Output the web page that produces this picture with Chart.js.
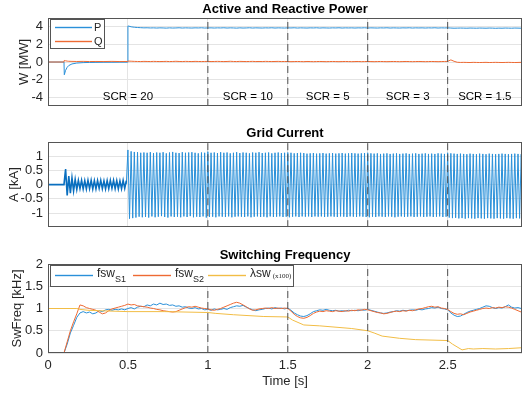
<!DOCTYPE html>
<html>
<head>
<meta charset="utf-8">
<script src="https://cdn.jsdelivr.net/npm/chart.js@4.4.1/dist/chart.umd.min.js"></script>
<style>
  body { margin: 0; background: #fff; }
  canvas { position: absolute; left: 0; }
</style>
</head>
<body>
<canvas id="powerChart" width="523" height="120" style="top:0"></canvas>
<canvas id="currentChart" width="523" height="120" style="top:120px"></canvas>
<canvas id="freqChart" width="523" height="153" style="top:240px"></canvas>
<script>
// ---- data ----
const xTicks = [0, 0.5, 1, 1.5, 2, 2.5];
const scrTimes = [1, 1.5, 2, 2.5];
const scrLabels = ['SCR = 20', 'SCR = 10', 'SCR = 5', 'SCR = 3', 'SCR = 1.5'];
const powerTicks = [-4, -2, 0, 2, 4];
const currentTicks = [-1, -0.5, 0, 0.5, 1];
const freqTicks = [0, 0.5, 1, 1.5, 2];

// active / reactive power [MW]: transient part, then samples every 0.02 s from 0.52 s
const pqTimeStart = [0, 0.1, 0.102, 0.11, 0.12, 0.13, 0.15, 0.18, 0.22, 0.26, 0.3, 0.35, 0.4, 0.45, 0.499, 0.5, 0.505];
const pStart = [0, 0, -1.45, -0.95, -0.6, -0.4, -0.22, -0.12, -0.07, -0.05, -0.04, -0.03, -0.03, -0.02, -0.02, 4.1, 4.08];
const qStart = [0, 0, 0.18, 0.14, 0.1, 0.08, 0.07, 0.06, 0.07, 0.05, 0.06, 0.05, 0.07, 0.05, 0.06, 0.12, 0.1];
const pqFineFrom = 0.52, pqFineStep = 0.02;
const pFine = [
  4.0, 3.95, 3.92, 3.9, 3.88, 3.89, 3.87, 3.88, 3.86, 3.88,
  3.87, 3.85, 3.88, 3.86, 3.87, 3.89, 3.86, 3.88, 3.87, 3.86,
  3.88, 3.87, 3.89, 3.86, 3.87, 3.88, 3.86, 3.88, 3.87, 3.89,
  3.86, 3.88, 3.87, 3.85, 3.88, 3.86, 3.87, 3.89, 3.86, 3.88,
  3.87, 3.86, 3.88, 3.87, 3.89, 3.86, 3.88, 3.87, 3.86, 3.88,
  3.87, 3.89, 3.86, 3.88, 3.87, 3.86, 3.88, 3.87, 3.89, 3.86,
  3.88, 3.87, 3.86, 3.88, 3.87, 3.89, 3.86, 3.88, 3.87, 3.88,
  3.86, 3.88, 3.87, 3.89, 3.86, 3.88, 3.87, 3.86, 3.88, 3.87,
  3.89, 3.86, 3.88, 3.87, 3.86, 3.88, 3.87, 3.89, 3.86, 3.88,
  3.87, 3.88, 3.86, 3.88, 3.87, 3.89, 3.86, 3.88, 3.87, 3.88,
  3.86, 3.84, 3.85, 3.86, 3.85, 3.84, 3.86, 3.85, 3.84, 3.86,
  3.85, 3.84, 3.86, 3.85, 3.83, 3.85, 3.84, 3.86, 3.85, 3.84,
  3.86, 3.85, 3.84
];
const qFine = [
  0.09, 0.07, 0.06, 0.05, 0.07, 0.06, 0.05, 0.07, 0.06, 0.05,
  0.06, 0.07, 0.05, 0.06, 0.08, 0.06, 0.05, 0.07, 0.06, 0.05,
  0.07, 0.06, 0.05, 0.06, 0.07, 0.05, 0.06, 0.07, 0.06, 0.05,
  0.06, 0.08, 0.06, 0.05, 0.07, 0.06, 0.05, 0.06, 0.07, 0.05,
  0.06, 0.05, 0.07, 0.06, 0.05, 0.06, 0.07, 0.05, 0.06, 0.05,
  0.04, 0.05, 0.06, 0.05, 0.04, 0.06, 0.05, 0.04, 0.05, 0.06,
  0.05, 0.04, 0.05, 0.06, 0.05, 0.04, 0.05, 0.06, 0.05, 0.04,
  0.05, 0.06, 0.04, 0.05, 0.06, 0.05, 0.04, 0.05, 0.06, 0.05,
  0.04, 0.05, 0.06, 0.05, 0.04, 0.05, 0.06, 0.05, 0.04, 0.05,
  0.06, 0.05, 0.04, 0.05, 0.06, 0.05, 0.04, 0.05, 0.06, 0.07,
  0.24, 0.08, -0.03, -0.05, -0.04, -0.05, -0.06, -0.04, -0.05, -0.06,
  -0.05, -0.04, -0.06, -0.05, -0.04, -0.05, -0.06, -0.05, -0.04, -0.05,
  -0.06, -0.05, -0.04
];

// grid current [kA]: successive half-cycle peaks, one every 0.01 s
// before the 0.5 s connection (small ripple) ...
const iaEarlyFrom = 0, iaStep = 0.01;
const iaEarly = [
  0, 0, 0, 0, 0, 0, 0, 0, 0, 0,
  0, 0.55, -0.38, 0.3, -0.3, 0.24, -0.22, 0.18, -0.17, 0.15,
  -0.14, 0.15, -0.15, 0.14, -0.15, 0.15, -0.14, 0.15, -0.15, 0.14,
  -0.15, 0.14, -0.13, 0.15, -0.14, 0.13, -0.15, 0.14, -0.14, 0.15,
  -0.13, 0.15, -0.14, 0.14, -0.15, 0.13, -0.14, 0.15, -0.13, 0.14
];
// ... and after it
const iaMainFrom = 0.49;
const iaMain = [
  0.02,
  1.22, -1.2, 1.17, -1.18, 1.15, -1.16, 1.14, -1.13, 1.12, -1.15,
  1.13, -1.14, 1.12, -1.16, 1.14, -1.12, 1.11, -1.15, 1.13, -1.13,
  1.12, -1.11, 1.14, -1.14, 1.1, -1.16, 1.13, -1.12, 1.15, -1.14,
  1.12, -1.13, 1.11, -1.15, 1.14, -1.12, 1.12, -1.14, 1.13, -1.11,
  1.14, -1.15, 1.12, -1.13, 1.1, -1.14, 1.13, -1.12, 1.12, -1.16,
  1.16, -1.14, 1.12, -1.13, 1.13, -1.15, 1.11, -1.12, 1.14, -1.13,
  1.12, -1.14, 1.13, -1.12, 1.1, -1.15, 1.12, -1.13, 1.14, -1.12,
  1.11, -1.13, 1.13, -1.14, 1.12, -1.12, 1.1, -1.15, 1.13, -1.13,
  1.12, -1.12, 1.14, -1.14, 1.11, -1.13, 1.12, -1.15, 1.13, -1.12,
  1.1, -1.14, 1.12, -1.13, 1.13, -1.12, 1.11, -1.14, 1.12, -1.13,
  1.13, -1.15, 1.12, -1.13, 1.1, -1.12, 1.11, -1.14, 1.12, -1.12,
  1.11, -1.13, 1.09, -1.12, 1.1, -1.14, 1.11, -1.12, 1.09, -1.13,
  1.1, -1.12, 1.11, -1.14, 1.09, -1.13, 1.1, -1.12, 1.11, -1.13,
  1.09, -1.14, 1.1, -1.12, 1.11, -1.13, 1.09, -1.14, 1.1, -1.12,
  1.11, -1.13, 1.1, -1.14, 1.09, -1.12, 1.1, -1.13, 1.11, -1.14,
  1.12, -1.15, 1.1, -1.13, 1.09, -1.14, 1.1, -1.12, 1.08, -1.13,
  1.09, -1.14, 1.1, -1.12, 1.08, -1.13, 1.09, -1.15, 1.1, -1.13,
  1.08, -1.12, 1.09, -1.14, 1.1, -1.13, 1.08, -1.12, 1.09, -1.14,
  1.1, -1.13, 1.08, -1.12, 1.09, -1.14, 1.1, -1.13, 1.08, -1.12,
  1.09, -1.14, 1.08, -1.13, 1.1, -1.12, 1.09, -1.14, 1.08, -1.13,
  1.12, -1.16, 1.1, -1.18, 1.09, -1.17, 1.08, -1.19, 1.09, -1.18,
  1.08, -1.2, 1.07, -1.18, 1.09, -1.19, 1.08, -1.2, 1.07, -1.18,
  1.09, -1.19, 1.08, -1.2, 1.07, -1.18, 1.09, -1.19, 1.08, -1.2,
  1.07, -1.18, 1.08, -1.19, 1.09, -1.2, 1.08, -1.18, 1.07, -1.19,
  1.08, -1.2, 1.09, -1.18, 1.08, -1.19, 1.07, -1.18
];

// switching frequency [kHz], samples every 0.02 s from t = 0
const fswFrom = 0, fswStep = 0.02;
const fswS1 = [
  0, 0, 0, 0, 0, 0, 0.2, 0.45, 0.62, 0.8,
  0.9, 0.93, 0.9, 0.92, 0.88, 0.9, 0.95, 0.93, 0.97, 0.98,
  0.96, 0.98, 0.97, 0.99, 0.97, 1.0, 1.02, 0.99, 1.03, 1.05,
  1.04, 1.08, 1.06, 1.1, 1.08, 1.12, 1.09, 1.1, 1.07, 1.08,
  1.05, 1.06, 1.03, 1.04, 1.01, 1.0, 1.02, 0.99, 1.0, 0.97,
  0.98, 0.96, 0.99, 0.97, 0.98, 1.0, 0.98, 1.02, 1.04, 1.06,
  1.05, 1.07, 1.03, 1.0, 0.97, 0.95, 0.97, 0.98, 1.0, 1.01,
  0.99, 1.02, 1.0, 1.01, 0.99, 1.01, 0.96, 0.9, 0.86, 0.83,
  0.82, 0.84, 0.88, 0.93, 0.95, 0.97, 0.96, 0.98, 0.96, 0.95,
  0.96, 0.94, 0.95, 0.94, 0.96, 0.95, 0.96, 0.95, 0.97, 0.96,
  0.98, 0.96, 0.94, 0.92, 0.9, 0.89, 0.9, 0.92, 0.93, 0.95,
  0.94, 0.96, 0.95, 0.96, 0.97, 0.96, 0.98, 0.97, 0.99, 1.0,
  1.02, 1.01, 1.03, 1.0, 0.99, 0.97, 0.9, 0.85, 0.82, 0.83,
  0.87, 0.91, 0.94, 0.96, 0.98, 1.0, 1.03, 1.06, 1.05, 1.02,
  1.0, 1.02, 1.01, 1.04, 1.08, 1.03, 1.01, 1.02, 1.0
];
const fswS2 = [
  0, 0, 0, 0, 0, 0, 0.25, 0.5, 0.7, 0.88,
  1.08, 1.06, 1.02, 1.0, 0.98, 0.96, 0.92, 0.88, 0.9, 0.95,
  0.99, 1.01, 1.03, 1.05, 1.07, 1.1, 1.08, 1.09, 1.06, 1.05,
  1.04, 1.03, 1.01, 1.0, 0.98, 0.97, 0.95, 0.94, 0.93, 0.92,
  0.93, 0.96, 0.99, 1.02, 1.04, 1.03, 1.05, 1.03, 1.01, 1.0,
  0.99, 0.97, 0.96, 0.98, 1.0, 1.03, 1.06, 1.09, 1.12, 1.14,
  1.12, 1.08, 1.04, 0.99, 0.96, 0.97, 0.99, 1.0, 1.01, 1.0,
  1.02, 1.0, 1.01, 1.0, 1.01, 1.0, 0.94, 0.87, 0.82, 0.79,
  0.78, 0.8, 0.84, 0.89, 0.92, 0.94, 0.93, 0.95, 0.94, 0.93,
  0.95, 0.94, 0.93, 0.95, 0.94, 0.96, 0.95, 0.97, 0.96, 0.98,
  0.97, 0.95, 0.93, 0.91, 0.9, 0.88, 0.89, 0.91, 0.93, 0.94,
  0.93, 0.95, 0.94, 0.96, 0.95, 0.97, 0.99, 1.0, 1.02, 1.04,
  1.05, 1.03, 1.04, 1.01, 1.0, 0.98, 0.93, 0.89, 0.87, 0.88,
  0.86, 0.89, 0.92, 0.94, 0.96, 0.98, 1.0, 1.01, 1.0, 1.02,
  1.01, 1.03, 1.02, 1.04, 1.03, 1.01, 0.98, 0.95, 0.92
];
// lambda_sw (x100)
const lamTime = [0, 0, 0.18, 0.2, 0.25, 0.32, 0.5, 0.73, 1.0, 1.05, 1.16, 1.35, 1.5, 1.53, 1.6, 1.7, 1.9, 2.0, 2.04, 2.09, 2.2, 2.3, 2.5, 2.53, 2.59, 2.63, 2.66, 2.72, 2.8, 2.88, 2.97];
const lamVal = [0, 1, 1, 0.98, 0.96, 0.95, 0.93, 0.93, 0.91, 0.89, 0.86, 0.82, 0.81, 0.74, 0.63, 0.61, 0.55, 0.5, 0.45, 0.38, 0.33, 0.3, 0.28, 0.2, 0.07, 0.1, 0.09, 0.1, 0.09, 0.1, 0.12];

// ---- styling ----
const X_MIN = 0, X_MAX = 2.965;
const BLUE = '#2a90d9', DARK_BLUE = '#0a6fbf', ORANGE = '#ee6a33', YELLOW = '#f2bd45';
const AXIS = '#262626', BOX = '#555555', GRID = '#e4e4e4', DASH = '#505050';
const FONT = '"Liberation Sans", Arial, Helvetica, sans-serif';
Chart.defaults.font.family = FONT;
Chart.defaults.color = AXIS;

const sampleTimes = (from, step, n) => Array.from({ length: n }, (_, i) => +(from + i * step).toFixed(3));
const pts = (xs, ys) => ys.map((y, i) => ({ x: xs[i], y }));

const pqTime = pqTimeStart.concat(sampleTimes(pqFineFrom, pqFineStep, pFine.length));
const pVals = pStart.concat(pFine);
const qVals = qStart.concat(qFine);
const fswTime = sampleTimes(fswFrom, fswStep, fswS1.length);

function line(data, color, order, width) {
  return { data, borderColor: color, borderWidth: width || 1, pointRadius: 0, tension: 0, fill: false, order };
}
function dashed(yMin, yMax) {
  return scrTimes.map(t => ({
    data: [{ x: t, y: yMin }, { x: t, y: yMax }],
    borderColor: DASH, borderWidth: 1, borderDash: [7, 4], pointRadius: 0, order: 0
  }));
}

// short coloured sample line of a legend entry
function sample(ctx, x, y, len, color) {
  ctx.fillStyle = color;
  ctx.fillRect(x, y - 0.7, len, 1.4);
}

function decor(cfg) {
  return {
    id: 'decor',
    afterDraw(chart) {
      const { ctx, chartArea: a, scales } = chart;
      ctx.save();
      ctx.setLineDash([]);
      // axes box
      ctx.strokeStyle = BOX;
      ctx.lineWidth = 1;
      ctx.strokeRect(Math.round(a.left) + 0.5, Math.round(a.top) + 0.5,
        Math.round(a.right - a.left) - 1, Math.round(a.bottom - a.top) - 1);
      // title
      ctx.fillStyle = '#000';
      ctx.font = 'bold 13px ' + FONT;
      ctx.textAlign = 'center';
      ctx.textBaseline = 'middle';
      ctx.fillText(cfg.title, (a.left + a.right) / 2, a.top - 9);
      // SCR annotations
      if (cfg.scrLevel !== undefined) {
        const bounds = [X_MIN, ...scrTimes, X_MAX];
        ctx.font = '11.5px ' + FONT;
        ctx.fillStyle = '#000';
        scrLabels.forEach((txt, i) => {
          const x = scales.x.getPixelForValue((bounds[i] + bounds[i + 1]) / 2);
          ctx.fillText(txt, x, scales.y.getPixelForValue(cfg.scrLevel));
        });
      }
      if (cfg.legend) cfg.legend(ctx, a, cfg.legendItems);
      ctx.restore();
    }
  };
}

function powerLegend(ctx, a, items) {
  const x0 = Math.round(a.left) + 2, y0 = Math.round(a.top) + 1, w = 54, h = 29;
  ctx.fillStyle = '#fff';
  ctx.fillRect(x0, y0, w, h);
  ctx.strokeStyle = BOX;
  ctx.strokeRect(x0 + 0.5, y0 + 0.5, w, h);
  ctx.font = '11px ' + FONT;
  ctx.textAlign = 'left';
  ctx.textBaseline = 'middle';
  items.forEach((it, i) => {
    const y = y0 + 8.5 + i * 14;
    sample(ctx, x0 + 5, y, 37, it.color);
    ctx.fillStyle = AXIS;
    ctx.fillText(it.label, x0 + 44, y);
  });
}

function freqLegend(ctx, a, items) {
  const x0 = Math.round(a.left) + 2, y0 = Math.round(a.top) + 1, w = 243, h = 21;
  ctx.fillStyle = '#fff';
  ctx.fillRect(x0, y0, w, h);
  ctx.strokeStyle = BOX;
  ctx.strokeRect(x0 + 0.5, y0 + 0.5, w, h);
  const starts = [5, 83, 158];
  ctx.textAlign = 'left';
  ctx.textBaseline = 'middle';
  items.forEach((it, i) => {
    const lx = x0 + starts[i], y = y0 + 10.5;
    sample(ctx, lx, y, 38, it.color);
    ctx.fillStyle = AXIS;
    ctx.font = '12px ' + FONT;
    ctx.fillText(it.label, lx + 42, y - 1.5);
    const mw = ctx.measureText(it.label).width;
    if (it.sub) {
      ctx.font = '9px ' + FONT;
      ctx.fillText(it.sub, lx + 42 + mw, y + 4);
    }
    if (it.note) {
      ctx.font = '7px "Liberation Serif", "Times New Roman", serif';
      ctx.fillText(it.note, lx + 44 + mw, y + 0.5);
    }
  });
}

function makeChart(id, cfg) {
  const canvas = document.getElementById(id);
  return new Chart(canvas, {
    type: 'line',
    data: { datasets: cfg.datasets },
    options: {
      responsive: false,
      animation: false,
      devicePixelRatio: 1,
      layout: { padding: { top: cfg.top, right: 1, left: 0, bottom: 0 } },
      plugins: { legend: { display: false }, tooltip: { enabled: false } },
      scales: {
        x: {
          type: 'linear', min: X_MIN, max: X_MAX,
          afterBuildTicks: s => { s.ticks = xTicks.map(v => ({ value: v })); },
          afterFit: s => { s.height = canvas.height - cfg.bottom; },
          grid: { color: GRID, drawTicks: false },
          border: { display: false },
          ticks: { display: !!cfg.xTitle, color: AXIS, font: { size: 13 }, padding: 5, maxRotation: 0, callback: v => String(v) },
          title: { display: !!cfg.xTitle, text: cfg.xTitle, color: AXIS, font: { size: 13 }, padding: { top: 0, bottom: 4 } }
        },
        y: {
          type: 'linear', min: cfg.yMin, max: cfg.yMax,
          afterBuildTicks: s => { s.ticks = cfg.yTicks.map(v => ({ value: v })); },
          afterFit: s => { s.width = 48; },
          grid: { color: GRID, drawTicks: false },
          border: { display: false },
          ticks: { color: AXIS, font: { size: 13 }, padding: 5, callback: v => String(v) },
          title: { display: true, text: cfg.yTitle, color: AXIS, font: { size: 13 }, padding: { top: cfg.yTitlePad, bottom: 0 } }
        }
      }
    },
    plugins: [decor(cfg)]
  });
}

makeChart('powerChart', {
  title: 'Active and Reactive Power', top: 18, bottom: 106,
  yMin: -5, yMax: 5, yTicks: powerTicks, yTitle: 'W [MW]', yTitlePad: 17,
  scrLevel: -4, legend: powerLegend,
  legendItems: [{ label: 'P', color: BLUE }, { label: 'Q', color: ORANGE }],
  datasets: [
    ...dashed(-5, 5),
    line(pts(pqTime, pVals), BLUE, 2),
    line(pts(pqTime, qVals), ORANGE, 1)
  ]
});

makeChart('currentChart', {
  title: 'Grid Current', top: 22, bottom: 109,
  yMin: -1.5, yMax: 1.5, yTicks: currentTicks, yTitle: 'A [kA]', yTitlePad: 7,
  datasets: [
    ...dashed(-1.5, 1.5),
    line(pts(sampleTimes(iaEarlyFrom, iaStep, iaEarly.length), iaEarly), DARK_BLUE, 1, 1.6),
    line(pts(sampleTimes(iaMainFrom, iaStep, iaMain.length), iaMain), BLUE, 2, 1)
  ]
});

makeChart('freqChart', {
  title: 'Switching Frequency', top: 24, bottom: 113,
  yMin: 0, yMax: 2, yTicks: freqTicks, yTitle: 'SwFreq [kHz]', yTitlePad: 10,
  xTitle: 'Time [s]', legend: freqLegend,
  legendItems: [
    { label: 'fsw', sub: 'S1', color: BLUE },
    { label: 'fsw', sub: 'S2', color: ORANGE },
    { label: 'λsw', note: '(x100)', color: YELLOW }
  ],
  datasets: [
    ...dashed(0, 2),
    line(pts(fswTime, fswS1), BLUE, 3),
    line(pts(fswTime, fswS2), ORANGE, 2),
    line(pts(lamTime, lamVal), YELLOW, 1)
  ]
});
</script>
</body>
</html>
